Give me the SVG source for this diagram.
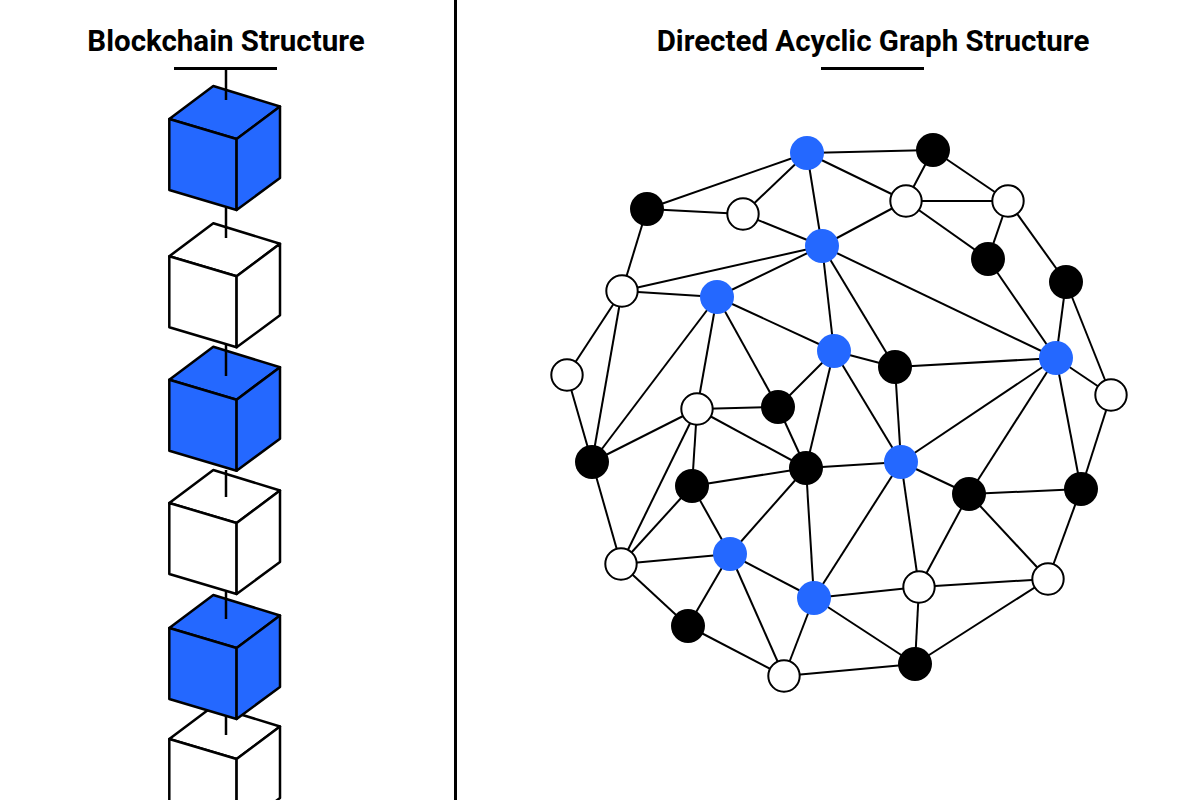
<svg xmlns="http://www.w3.org/2000/svg" width="1200" height="800" viewBox="0 0 1200 800">
<style>
.title{font-family:Roboto,"Liberation Sans",sans-serif;font-weight:700;font-size:29.5px;fill:#000;text-anchor:middle}
.rule{stroke:#000;stroke-width:3}
.cube{stroke:#000;stroke-width:2.5;stroke-linejoin:round}
.cb{fill:#2468FF}
.cw{fill:#fff}
.stub{stroke:#000;stroke-width:2.5}
.e line{stroke:#000;stroke-width:2}
.nb{fill:#2468FF}
.nk{fill:#000}
.nw{fill:#fff;stroke:#000;stroke-width:2}
</style>
<defs>
<g id="cube">
<path d="M0,0 L66.7,20.5 L23.3,53 L-44,33 Z"/>
<path d="M-44,33 L23.3,53 L23.3,124 L-44,104 Z"/>
<path d="M23.3,53 L66.7,20.5 L66.7,92 L23.3,124 Z"/>
</g>
</defs>
<rect width="1200" height="800" fill="#fff"/>
<line class="rule" x1="455.5" y1="0" x2="455.5" y2="800"/>
<g id="title-left">
<text class="title" x="226" y="51">Blockchain Structure</text>
<line class="rule" x1="174" y1="68.5" x2="277" y2="68.5"/>
</g>
<g id="title-right">
<text class="title" x="873" y="51">Directed Acyclic Graph Structure</text>
<line class="rule" x1="821" y1="68.5" x2="924" y2="68.5"/>
</g>
<g id="blockchain">
<g id="block6" class="cube cw"><use href="#cube" x="213.3" y="706"/></g>
<g id="block5" class="cube cb"><use href="#cube" x="213.3" y="595"/></g>
<g id="block4" class="cube cw"><use href="#cube" x="213.3" y="470"/></g>
<g id="block3" class="cube cb"><use href="#cube" x="213.3" y="346.7"/></g>
<g id="block2" class="cube cw"><use href="#cube" x="213.3" y="223.3"/></g>
<g id="block1" class="cube cb"><use href="#cube" x="213.3" y="86"/></g>
<g id="chain-links" class="stub">
<line x1="226" y1="68" x2="226" y2="100"/>
<line x1="226" y1="208" x2="226" y2="238"/>
<line x1="226" y1="345" x2="226" y2="376"/>
<line x1="226" y1="470" x2="226" y2="497"/>
<line x1="226" y1="592" x2="226" y2="619"/>
<line x1="226" y1="716" x2="226" y2="735"/>
</g>
</g>
<g id="connectors" class="e">
<line x1="807" y1="153" x2="647" y2="209"/>
<line x1="807" y1="153" x2="743" y2="214"/>
<line x1="807" y1="153" x2="933" y2="150"/>
<line x1="807" y1="153" x2="906" y2="201"/>
<line x1="807" y1="153" x2="822" y2="246"/>
<line x1="647" y1="209" x2="743" y2="214"/>
<line x1="647" y1="209" x2="622" y2="291"/>
<line x1="743" y1="214" x2="822" y2="246"/>
<line x1="822" y1="246" x2="622" y2="291"/>
<line x1="822" y1="246" x2="717" y2="297"/>
<line x1="822" y1="246" x2="906" y2="201"/>
<line x1="822" y1="246" x2="834" y2="351"/>
<line x1="822" y1="246" x2="895" y2="367"/>
<line x1="822" y1="246" x2="1056" y2="358"/>
<line x1="622" y1="291" x2="717" y2="297"/>
<line x1="622" y1="291" x2="567" y2="375"/>
<line x1="622" y1="291" x2="592" y2="462"/>
<line x1="717" y1="297" x2="592" y2="462"/>
<line x1="717" y1="297" x2="697" y2="409"/>
<line x1="717" y1="297" x2="778" y2="407"/>
<line x1="717" y1="297" x2="834" y2="351"/>
<line x1="834" y1="351" x2="778" y2="407"/>
<line x1="834" y1="351" x2="806" y2="468"/>
<line x1="834" y1="351" x2="901" y2="462"/>
<line x1="834" y1="351" x2="895" y2="367"/>
<line x1="567" y1="375" x2="592" y2="462"/>
<line x1="697" y1="409" x2="778" y2="407"/>
<line x1="697" y1="409" x2="592" y2="462"/>
<line x1="697" y1="409" x2="692" y2="486"/>
<line x1="697" y1="409" x2="621" y2="564"/>
<line x1="697" y1="409" x2="806" y2="468"/>
<line x1="778" y1="407" x2="806" y2="468"/>
<line x1="933" y1="150" x2="906" y2="201"/>
<line x1="933" y1="150" x2="1008" y2="201"/>
<line x1="906" y1="201" x2="1008" y2="201"/>
<line x1="906" y1="201" x2="988" y2="259"/>
<line x1="1008" y1="201" x2="988" y2="259"/>
<line x1="1008" y1="201" x2="1066" y2="282"/>
<line x1="988" y1="259" x2="1056" y2="358"/>
<line x1="1066" y1="282" x2="1056" y2="358"/>
<line x1="1066" y1="282" x2="1111" y2="395"/>
<line x1="1056" y1="358" x2="1111" y2="395"/>
<line x1="895" y1="367" x2="1056" y2="358"/>
<line x1="895" y1="367" x2="901" y2="462"/>
<line x1="1056" y1="358" x2="901" y2="462"/>
<line x1="1056" y1="358" x2="969" y2="494"/>
<line x1="1056" y1="358" x2="1081" y2="489"/>
<line x1="1111" y1="395" x2="1081" y2="489"/>
<line x1="592" y1="462" x2="621" y2="564"/>
<line x1="692" y1="486" x2="621" y2="564"/>
<line x1="692" y1="486" x2="806" y2="468"/>
<line x1="692" y1="486" x2="730" y2="554"/>
<line x1="806" y1="468" x2="730" y2="554"/>
<line x1="806" y1="468" x2="814" y2="598"/>
<line x1="806" y1="468" x2="901" y2="462"/>
<line x1="621" y1="564" x2="730" y2="554"/>
<line x1="621" y1="564" x2="688" y2="626"/>
<line x1="730" y1="554" x2="688" y2="626"/>
<line x1="730" y1="554" x2="784" y2="676"/>
<line x1="730" y1="554" x2="814" y2="598"/>
<line x1="688" y1="626" x2="784" y2="676"/>
<line x1="784" y1="676" x2="814" y2="598"/>
<line x1="784" y1="676" x2="915" y2="664"/>
<line x1="814" y1="598" x2="919" y2="587"/>
<line x1="814" y1="598" x2="915" y2="664"/>
<line x1="814" y1="598" x2="901" y2="462"/>
<line x1="901" y1="462" x2="969" y2="494"/>
<line x1="901" y1="462" x2="919" y2="587"/>
<line x1="969" y1="494" x2="1081" y2="489"/>
<line x1="969" y1="494" x2="919" y2="587"/>
<line x1="969" y1="494" x2="1048" y2="579"/>
<line x1="1081" y1="489" x2="1048" y2="579"/>
<line x1="1048" y1="579" x2="919" y2="587"/>
<line x1="1048" y1="579" x2="915" y2="664"/>
<line x1="919" y1="587" x2="915" y2="664"/>
</g>
<g id="nodes">
<g id="nA"><circle class="nb" cx="807" cy="153" r="17"/></g>
<g id="nB"><circle class="nk" cx="647" cy="209" r="17"/></g>
<g id="nC"><circle class="nw" cx="743" cy="214" r="15.7"/></g>
<g id="nD"><circle class="nb" cx="822" cy="246" r="17"/></g>
<g id="nE"><circle class="nw" cx="622" cy="291" r="15.7"/></g>
<g id="nF"><circle class="nb" cx="717" cy="297" r="17"/></g>
<g id="nG"><circle class="nb" cx="834" cy="351" r="17"/></g>
<g id="nH"><circle class="nw" cx="567" cy="375" r="15.7"/></g>
<g id="nI"><circle class="nw" cx="697" cy="409" r="15.7"/></g>
<g id="nJ"><circle class="nk" cx="778" cy="407" r="17"/></g>
<g id="nK"><circle class="nk" cx="933" cy="150" r="17"/></g>
<g id="nL"><circle class="nw" cx="906" cy="201" r="15.7"/></g>
<g id="nM"><circle class="nw" cx="1008" cy="201" r="15.7"/></g>
<g id="nN"><circle class="nk" cx="988" cy="259" r="17"/></g>
<g id="nO"><circle class="nk" cx="1066" cy="282" r="17"/></g>
<g id="nP"><circle class="nk" cx="895" cy="367" r="17"/></g>
<g id="nQ"><circle class="nb" cx="1056" cy="358" r="17"/></g>
<g id="nR"><circle class="nw" cx="1111" cy="395" r="15.7"/></g>
<g id="nS"><circle class="nk" cx="592" cy="462" r="17"/></g>
<g id="nT"><circle class="nk" cx="692" cy="486" r="17"/></g>
<g id="nU"><circle class="nk" cx="806" cy="468" r="17"/></g>
<g id="nV"><circle class="nw" cx="621" cy="564" r="15.7"/></g>
<g id="nW"><circle class="nb" cx="730" cy="554" r="17"/></g>
<g id="nX"><circle class="nb" cx="814" cy="598" r="17"/></g>
<g id="nY"><circle class="nk" cx="688" cy="626" r="17"/></g>
<g id="nZ"><circle class="nw" cx="784" cy="676" r="15.7"/></g>
<g id="nAA"><circle class="nb" cx="901" cy="462" r="17"/></g>
<g id="nAB"><circle class="nk" cx="969" cy="494" r="17"/></g>
<g id="nAC"><circle class="nk" cx="1081" cy="489" r="17"/></g>
<g id="nAD"><circle class="nw" cx="919" cy="587" r="15.7"/></g>
<g id="nAE"><circle class="nw" cx="1048" cy="579" r="15.7"/></g>
<g id="nAF"><circle class="nk" cx="915" cy="664" r="17"/></g>
</g>
</svg>
